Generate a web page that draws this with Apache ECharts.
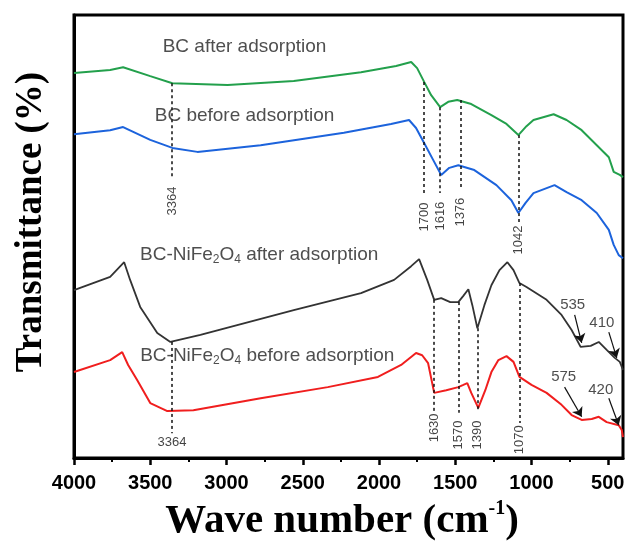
<!DOCTYPE html>
<html>
<head>
<meta charset="utf-8">
<script src="https://cdn.jsdelivr.net/npm/echarts@6/dist/echarts.min.js"></script>
<style>
html,body{margin:0;padding:0;background:#fff;}
#chart{width:625px;height:542px;}
</style>
</head>
<body>
<div id="chart"></div>
<script>
// ---- axis ticks ----
const majorTicks = [4000, 3500, 3000, 2500, 2000, 1500, 1000, 500];
const minorTicks = [3750, 3250, 2750, 2250, 1750, 1250, 750];

// ---- spectra: [wavenumber (cm-1), transmittance (a.u., stacked)] ----
const bcAfter = [[4000,86.9],[3763,87.6],[3678,88.2],[3500,86.2],[3355,84.6],[2993,84.2],[2559,85.1],[2118,87.1],[1888,88.5],[1789,89.4],[1750,88.0],[1704,84.9],[1658,81.9],[1599,79.2],[1546,80.4],[1487,80.8],[1395,79.9],[1263,77.4],[1164,75.4],[1086,72.9],[1033,74.9],[987,76.3],[855,77.6],[770,76.3],[671,74.0],[572,70.6],[493,67.9],[461,64.6],[421,63.9],[400,63.4]];
const bcBefore = [[4000,73.1],[3763,74.0],[3678,74.7],[3500,71.8],[3355,70.0],[3191,69.1],[2776,70.6],[2230,73.4],[1921,75.4],[1803,76.3],[1757,74.5],[1704,71.1],[1645,67.3],[1592,63.9],[1539,65.5],[1480,66.1],[1375,65.0],[1230,61.6],[1132,58.2],[1086,55.3],[1039,57.6],[987,59.8],[849,61.6],[770,60.0],[671,58.2],[572,55.3],[493,51.5],[461,48.1],[428,45.8],[400,45.1]];
const nifeAfter = [[4000,37.9],[3763,40.9],[3671,44.2],[3632,40.2],[3566,34.1],[3454,28.2],[3368,26.2],[3171,27.8],[2559,33.4],[2118,37.2],[1901,40.2],[1789,43.3],[1737,44.9],[1684,40.2],[1638,35.7],[1592,36.1],[1533,35.2],[1480,35.2],[1447,36.6],[1414,38.1],[1388,34.5],[1355,29.3],[1309,34.5],[1263,39.0],[1210,42.4],[1158,44.2],[1118,42.4],[1079,39.5],[1033,38.6],[901,35.7],[803,32.3],[737,28.9],[678,25.1],[612,25.3],[559,26.2],[507,24.4],[454,22.6],[421,21.7],[400,19.9]];
const nifeBefore = [[4000,19.4],[3763,22.1],[3684,23.9],[3645,21.0],[3586,17.6],[3500,12.4],[3388,10.6],[3217,10.8],[2776,13.5],[2336,16.0],[2007,18.3],[1855,21.0],[1757,23.7],[1717,23.2],[1678,21.4],[1638,14.7],[1559,15.3],[1480,16.0],[1447,16.5],[1421,16.9],[1395,14.7],[1349,11.3],[1303,15.3],[1263,19.4],[1217,22.1],[1164,23.0],[1118,21.7],[1079,18.3],[1000,16.5],[901,14.7],[803,12.0],[737,9.7],[671,8.6],[605,8.8],[559,9.3],[507,8.1],[428,7.4],[408,6.3],[400,4.7]];

// ---- series captions ----
const captionText = ['BC after adsorption', 'BC before adsorption', 'BC-NiFe2O4 after adsorption', 'BC-NiFe2O4 before adsorption'];
const captionPos = [[2882, 92.8], [2882, 77.2], [2786, 45.8], [2733, 23.0]];

// ---- peak markers (dashed lines) ----
const bcPeakPos = [3357, 1704, 1600, 1467, 1086];
const bcPeakText = ['3364', '1700', '1616', '1376', '1042'];
const bcPeakTop = [84.6, 84.9, 79.2, 80.8, 72.9];
const bcPeakBottom = [63.2, 59.8, 59.8, 60.9, 53.3];
const bcPeakLabelY = [58.0, 54.4, 54.6, 55.5, 49.2];

const nifePeakPos = [3357, 1638, 1480, 1352, 1079];
const nifePeakText = ['3364', '1630', '1570', '1390', '1070'];
const nifePeakTop = [26.2, 35.7, 35.2, 29.3, 39.5];
const nifePeakBottom = [5.6, 10.2, 10.2, 10.4, 7.9];
const nifePeakLabelY = [3.6, 6.8, 5.2, 5.2, 4.1];

// ---- arrow annotations ----
const arrowText = ['535', '410', '575', '420'];
const arrowTextPos = [[730, 34.5], [539, 30.5], [789, 18.3], [546, 15.3]];
const arrowFrom = [[717, 32.3], [493, 28.4], [783, 16.0], [493, 13.5]];
const arrowTo = [[671, 26.0], [441, 22.6], [671, 9.3], [428, 7.4]];

const colors = ['#23a04c', '#1c63dc', '#333333', '#f01e1e'];
const xTitle = 'Wave number (cm';
const yTitle = 'Transmittance (%)';

const chart = echarts.init(document.getElementById('chart'), null, {renderer: 'canvas'});

function captionRich(t) {
  return '{a|' + t.replace('NiFe2O4', 'NiFe}{s|2}{a|O}{s|4}{a|') + '}';
}

const dashPairs = [];
bcPeakPos.forEach((x, i) => dashPairs.push([{coord: [x, bcPeakTop[i]]}, {coord: [x, bcPeakBottom[i]]}]));
nifePeakPos.forEach((x, i) => dashPairs.push([{coord: [x, nifePeakTop[i]]}, {coord: [x, nifePeakBottom[i]]}]));

const rotLabels = [];
bcPeakPos.forEach((x, i) => rotLabels.push({value: [x, bcPeakLabelY[i]], name: bcPeakText[i], label: {rotate: 90}}));
nifePeakPos.forEach((x, i) => rotLabels.push({value: [x, nifePeakLabelY[i]], name: nifePeakText[i], label: {rotate: i === 0 ? 0 : 90}}));

const arrowPairs = arrowFrom.map((p, i) => [{coord: p}, {coord: arrowTo[i]}]);

const option = {
  backgroundColor: '#fff',
  animation: false,
  grid: {left: 74, right: 2, top: 15, bottom: 84, containLabel: false, outerBoundsMode: 'none',
    show: true, borderColor: '#000', borderWidth: 3, backgroundColor: 'transparent'},
  graphic: [
    {type: 'text', x: 342, y: 521, z: 10, style: {
      text: '{a|' + xTitle + '}{sup|-1}{a|)}', align: 'center', verticalAlign: 'middle',
      rich: {
        a: {fontFamily: 'Liberation Serif', fontWeight: 'bold', fontSize: 41, fill: '#000', lineHeight: 44},
        sup: {fontFamily: 'Liberation Serif', fontWeight: 'bold', fontSize: 20, fill: '#000', lineHeight: 22, verticalAlign: 'top'}
      }}},
    {type: 'text', x: 31, y: 222, rotation: Math.PI / 2, z: 10, style: {
      text: yTitle, align: 'center', verticalAlign: 'middle',
      fontFamily: 'Liberation Serif', fontWeight: 'bold', fontSize: 37, fill: '#000'}}
  ],
  xAxis: [{
    type: 'value', inverse: true, min: 400, max: 4000,
    axisLine: {show: true, onZero: false, lineStyle: {color: '#000', width: 3}},
    axisTick: {show: true, inside: false, length: 7, lineStyle: {color: '#000', width: 2.5}, customValues: majorTicks},
    axisLabel: {customValues: majorTicks, formatter: v => String(v), fontFamily: 'Liberation Sans', fontWeight: 'bold', fontSize: 20, color: '#000', margin: 15},
    splitLine: {show: false}
  }, {
    type: 'value', inverse: true, min: 400, max: 4000, position: 'bottom', gridIndex: 0,
    axisLine: {show: false},
    axisTick: {show: true, inside: false, length: 4, lineStyle: {color: '#000', width: 2}, customValues: minorTicks},
    axisLabel: {show: false, customValues: minorTicks},
    splitLine: {show: false}
  }],
  yAxis: {
    type: 'value', min: 0, max: 100,
    axisLine: {show: true, lineStyle: {color: '#000', width: 3}},
    axisTick: {show: false}, axisLabel: {show: false}, splitLine: {show: false}
  },
  series: [
    {name: captionText[0], type: 'line', data: bcAfter, showSymbol: false, lineStyle: {color: colors[0], width: 2}, z: 3},
    {name: captionText[1], type: 'line', data: bcBefore, showSymbol: false, lineStyle: {color: colors[1], width: 2}, z: 3},
    {name: captionText[2], type: 'line', data: nifeAfter, showSymbol: false, lineStyle: {color: colors[2], width: 1.8}, z: 3},
    {name: captionText[3], type: 'line', data: nifeBefore, showSymbol: false, lineStyle: {color: colors[3], width: 2}, z: 3},
    {
      name: 'captions', type: 'scatter', symbolSize: 0, z: 5,
      data: captionPos.map((p, i) => ({value: p, name: captionText[i]})),
      label: {show: true, position: 'inside', formatter: p => captionRich(p.name),
        rich: {
          a: {fontFamily: 'Liberation Sans', fontSize: 19, color: '#222', lineHeight: 22},
          s: {fontFamily: 'Liberation Sans', fontSize: 12, color: '#222', lineHeight: 12, verticalAlign: 'bottom'}
        }},
      markLine: {
        silent: true, symbol: ['none', 'none'], animation: false,
        lineStyle: {type: [3, 3], color: '#111', width: 1.5},
        label: {show: false},
        data: dashPairs
      }
    },
    {
      name: 'peaks', type: 'scatter', symbolSize: 0, z: 5,
      data: rotLabels,
      label: {show: true, position: 'inside', formatter: p => p.name, fontFamily: 'Liberation Sans', fontSize: 13, color: '#111'},
      markLine: {
        silent: true, symbol: ['none', 'arrow'], symbolSize: 9, animation: false,
        lineStyle: {type: 'solid', color: '#111', width: 1.2},
        label: {show: false},
        data: arrowPairs
      }
    },
    {
      name: 'arrows', type: 'scatter', symbolSize: 0, z: 5,
      data: arrowTextPos.map((p, i) => ({value: p, name: arrowText[i]})),
      label: {show: true, position: 'inside', formatter: p => p.name, fontFamily: 'Liberation Sans', fontSize: 15, color: '#222'}
    }
  ]
};
chart.setOption(option);
</script>
</body>
</html>
